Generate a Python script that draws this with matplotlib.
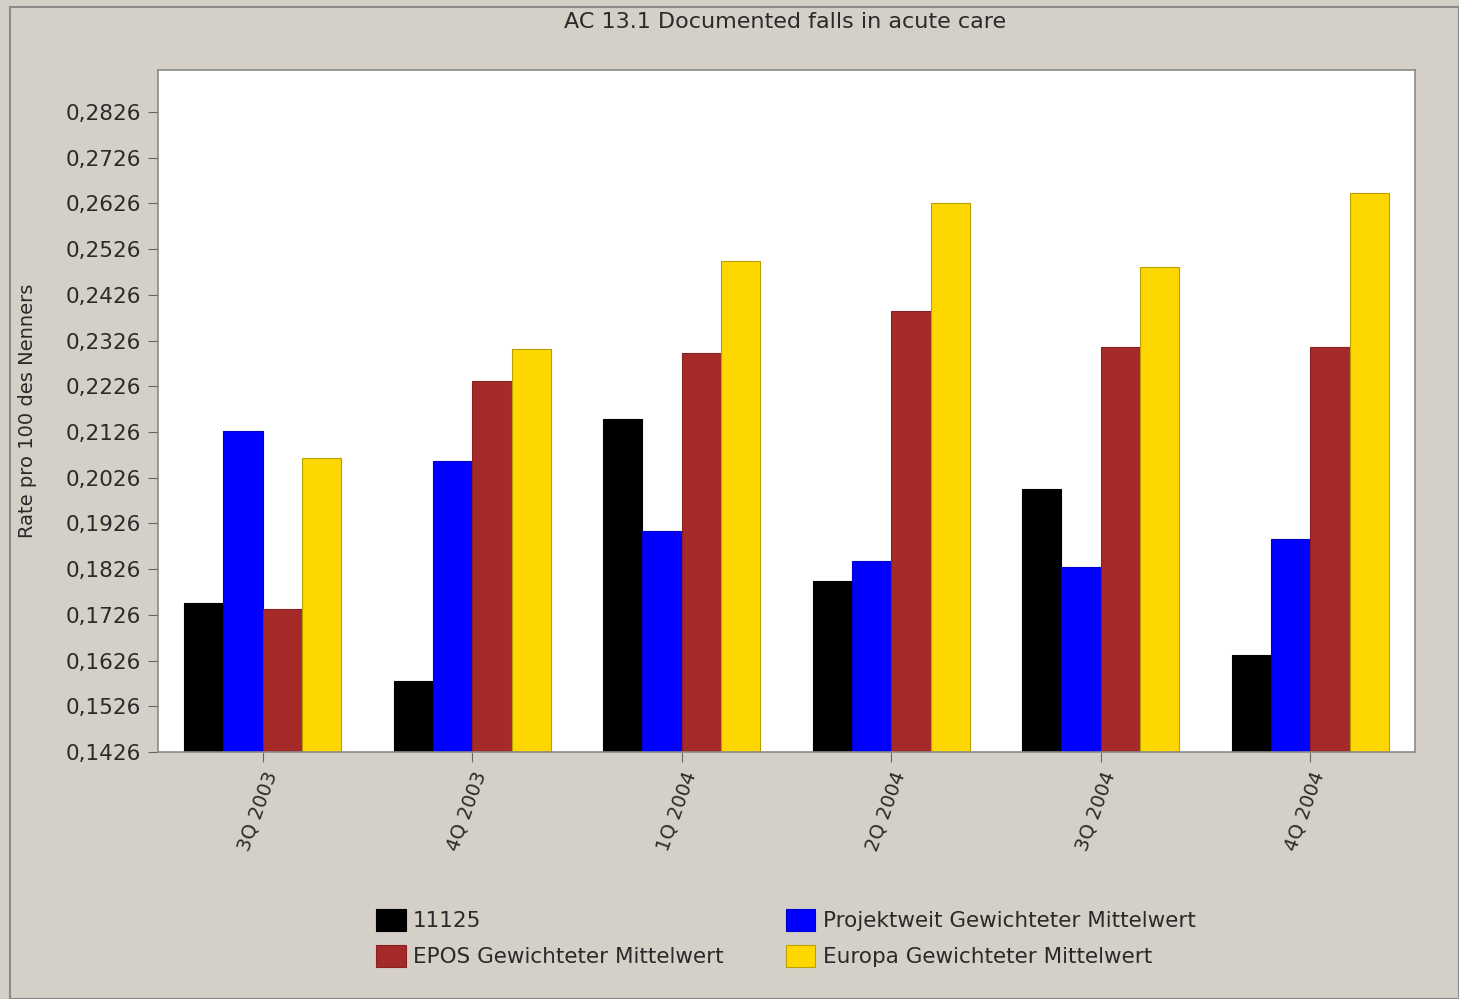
import matplotlib
matplotlib.use("Agg")
import matplotlib.pyplot as plt
from matplotlib.patches import Rectangle
import numpy as np

plt.rcParams['font.family'] = ['DejaVu Sans']

quarters = ['3Q 2003', '4Q 2003', '1Q 2004', '2Q 2004', '3Q 2004', '4Q 2004']
series_names = ['11125', 'Projektweit Gewichteter Mittelwert',
                'EPOS Gewichteter Mittelwert', 'Europa Gewichteter Mittelwert']
site_11125 = [0.1752, 0.1581, 0.2155, 0.1800, 0.2001, 0.1638]
projektweit = [0.2128, 0.2063, 0.1909, 0.1844, 0.1831, 0.1892]
epos = [0.1739, 0.2238, 0.2299, 0.2391, 0.2312, 0.2312]
europa = [0.2069, 0.2308, 0.2500, 0.2627, 0.2487, 0.2649]
yticks = [0.1426 + 0.01 * i for i in range(15)]

colors = ['#000000', '#0000ff', '#a52a2a', '#ffd700']
edges = ['#000000', '#0000cc', '#8a2222', '#b8a000']
bg = '#d4d0c8'
txt = '#2a2a2a'

fig = plt.figure(figsize=(14.59, 9.99), dpi=100, facecolor=bg)
ax = fig.add_axes([158 / 1459, 1 - 752 / 999, (1415 - 158) / 1459, (752 - 70) / 999])
ax.set_facecolor('white')

# outer frame of the picture
fig.patches.append(Rectangle((10 / 1459, 0), 1 - 10 / 1459, 1 - 7 / 999,
                             transform=fig.transFigure, fill=False,
                             edgecolor='#8a8a8a', linewidth=1.5))

x = np.arange(len(quarters))
w = 0.75 / 4
all_series = [site_11125, projektweit, epos, europa]
for i, vals in enumerate(all_series):
    ax.bar(x - 0.375 + w * (i + 0.5), [v - 0.1426 for v in vals], w, bottom=0.1426,
           color=colors[i], edgecolor=edges[i], linewidth=0.8, label=series_names[i])

ax.set_xlim(-0.5, 5.5)
ax.set_ylim(0.1426, 0.2918)
ax.set_yticks(yticks)
ax.set_yticklabels([f'{v:.4f}'.replace('.', ',') for v in yticks], fontsize=15.5, color=txt)
ax.set_xticks(x)
ax.set_xticklabels(quarters, rotation=70, ha='right', rotation_mode='anchor',
                   fontsize=14, color=txt)
ax.tick_params(axis='y', direction='out', length=7, color='#666666', pad=5)
ax.tick_params(axis='x', direction='out', length=7, color='#666666', pad=5)
for s in ax.spines.values():
    s.set_color('#8a8a8a')
    s.set_linewidth(1.2)

ax.set_ylabel('Rate pro 100 des Nenners', fontsize=14, color=txt)
ax.yaxis.set_label_coords((37 - 158) / 1257, 0.5)
fig.text(785 / 1459, 1 - 22 / 999, 'AC 13.1 Documented falls in acute care',
         ha='center', va='center', fontsize=16, color=txt)

handles, labels = ax.get_legend_handles_labels()
order = [0, 2, 1, 3]
fig.legend([handles[k] for k in order], [labels[k] for k in order], ncol=2,
           loc='center', bbox_to_anchor=(786 / 1459, 1 - 938 / 999), frameon=False,
           fontsize=15.5, handlelength=1.35, handleheight=1.2, handletextpad=0.35,
           columnspacing=2.9, labelspacing=0.65, labelcolor=txt)

fig.savefig('out.png', dpi=100, facecolor=bg)
